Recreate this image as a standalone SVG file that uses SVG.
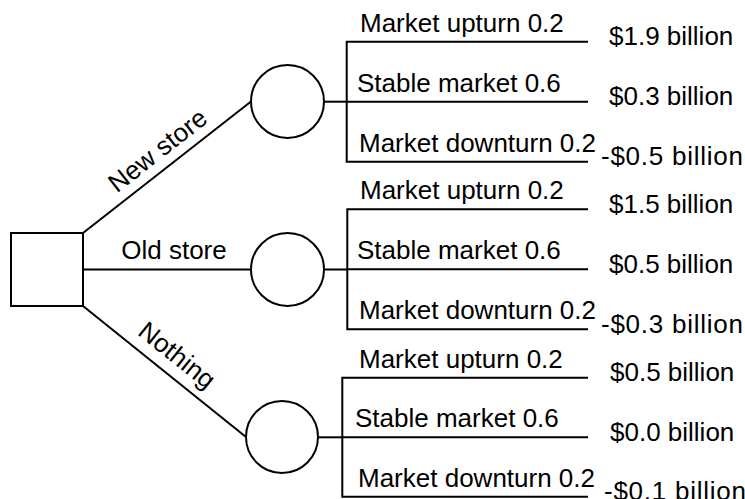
<svg xmlns="http://www.w3.org/2000/svg" width="745" height="499" viewBox="0 0 745 499">
<style>
.s{fill:none;stroke:#000;stroke-width:2}
.n{fill:#fff;stroke:#000;stroke-width:2}
text{font-family:"Liberation Sans",Arial,sans-serif;font-size:26px;fill:#000}
.neg{letter-spacing:0.75px}
</style>
<rect width="745" height="499" fill="#fff"/>
<g id="connectors">
<line class="s" x1="83" y1="233" x2="251" y2="101.5"/>
<line class="s" x1="83" y1="269.5" x2="251" y2="269.5"/>
<line class="s" x1="83" y1="306" x2="246" y2="437"/>
<line class="s" x1="324" y1="101.7" x2="346.7" y2="101.7"/>
<line class="s" x1="324" y1="269.5" x2="347.3" y2="269.5"/>
<line class="s" x1="318" y1="437.3" x2="342.3" y2="437.3"/>
<path class="s" d="M588 41.7H346.7V161.7H588M346.7 101.7H588"/>
<path class="s" d="M588 209.3H347.3V329.3H588M347.3 269.3H588"/>
<path class="s" d="M588 377.7H342.3V496.7H588M342.3 437.3H588"/>
<text transform="translate(163,157.5) rotate(-38.05)" text-anchor="middle">New store</text>
<text x="174" y="258.5" text-anchor="middle">Old store</text>
<text transform="translate(171.5,362) rotate(38.78)" text-anchor="middle">Nothing</text>
</g>
<g id="decision"><rect class="n" x="11" y="233" width="72" height="73"/></g>
<g id="chance1"><circle class="n" cx="287.5" cy="101.5" r="36.5"/></g>
<g id="chance2"><circle class="n" cx="287.5" cy="269.5" r="36.5"/></g>
<g id="chance3"><circle class="n" cx="282" cy="437" r="36"/></g>
<g id="outcomes1">
<text x="360" y="31.7">Market upturn 0.2</text>
<text x="357" y="91.7">Stable market 0.6</text>
<text x="359" y="151.7">Market downturn 0.2</text>
<text x="609" y="45.2">$1.9 billion</text>
<text x="609" y="105.2">$0.3 billion</text>
<text class="neg" x="601" y="165.2">-$0.5 billion</text>
</g>
<g id="outcomes2">
<text x="360" y="199.3">Market upturn 0.2</text>
<text x="357" y="259.3">Stable market 0.6</text>
<text x="359" y="319.3">Market downturn 0.2</text>
<text x="609" y="212.8">$1.5 billion</text>
<text x="609" y="272.8">$0.5 billion</text>
<text class="neg" x="601" y="332.8">-$0.3 billion</text>
</g>
<g id="outcomes3">
<text x="359" y="367.7">Market upturn 0.2</text>
<text x="355" y="427.3">Stable market 0.6</text>
<text x="358" y="486.7">Market downturn 0.2</text>
<text x="610" y="381.2">$0.5 billion</text>
<text x="610" y="440.8">$0.0 billion</text>
<text class="neg" x="604" y="500.2">-$0.1 billion</text>
</g>
</svg>
